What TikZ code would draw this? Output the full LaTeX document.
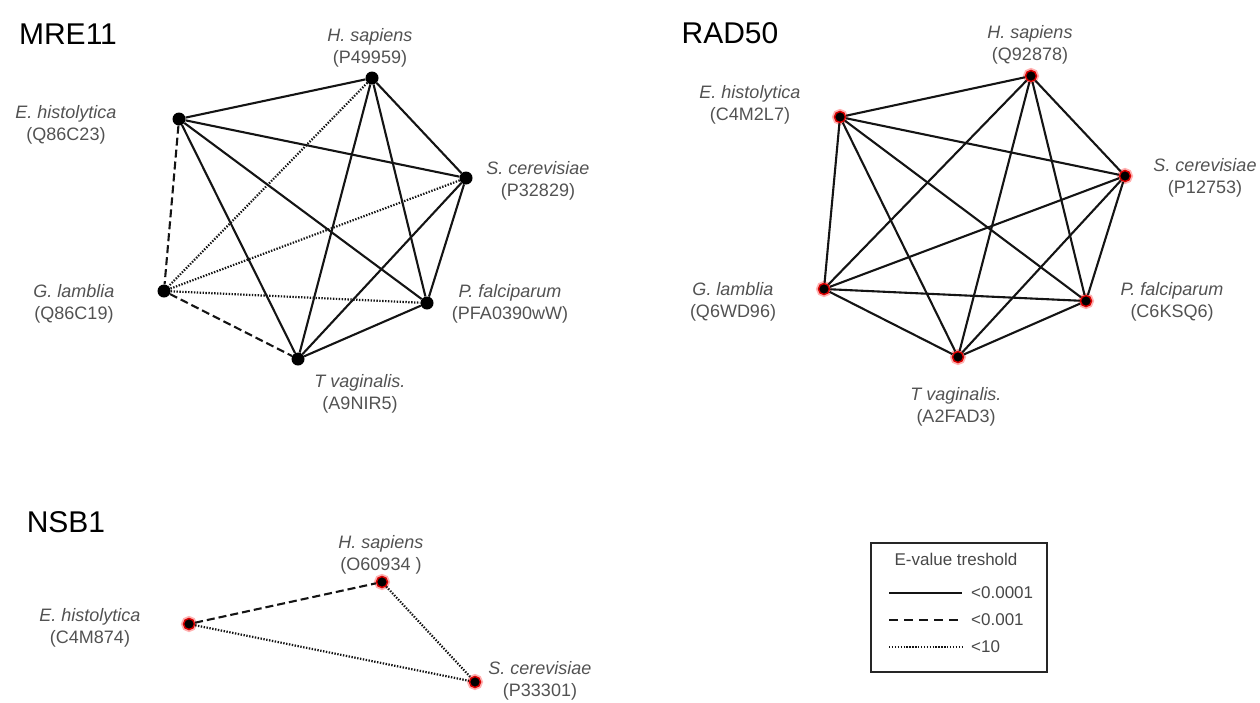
\documentclass[tikz,border=0pt]{standalone}
\usepackage{fontspec}
\setmainfont{Liberation Sans}
\begin{document}
\begin{tikzpicture}[x=1pt,y=-1pt,
  edge/.style={line width=2.1pt, black!92},
  dashedge/.style={edge, dash pattern=on 8pt off 4pt},
  dotedge/.style={edge, line width=2.2pt, dash pattern=on 1.4pt off 1.5pt},
  bdot/.style={circle, fill=black, inner sep=0pt, minimum size=13pt},
  rdot/.style={circle, fill=black, draw=red!85!black, line width=1.5pt, inner sep=0pt, minimum size=11pt,
    preaction={draw=red!30, line width=5pt}},
  lab/.style={align=center, text=black!68, font=\fontsize{18}{22}\selectfont, inner sep=0pt},
  ttl/.style={font=\fontsize{30}{34}\selectfont, inner sep=0pt},
  legtext/.style={anchor=west, text=black!72, font=\fontsize{17}{20}\selectfont, inner sep=0pt}]
\useasboundingbox (0,0) rectangle (1260,702);

% ---------------- MRE11 ----------------
\node[ttl] (tM) at (68,34) {MRE11};
\node[bdot] (mH) at (372,78) {};
\node[bdot] (mE) at (179,119) {};
\node[bdot] (mS) at (466,178) {};
\node[bdot] (mG) at (164,291) {};
\node[bdot] (mP) at (427,303) {};
\node[bdot] (mT) at (298,359) {};
\node[lab] (lmH) at (370,48) {\textit{H. sapiens}\\(P49959)};
\node[lab] (lmE) at (66,125) {\textit{E. histolytica}\\(Q86C23)};
\node[lab] (lmS) at (538,181) {\textit{S. cerevisiae}\\(P32829)};
\node[lab] (lmG) at (74,304) {\textit{G. lamblia}\\(Q86C19)};
\node[lab] (lmP) at (510,304) {\textit{P. falciparum}\\(PFA0390wW)};
\node[lab] (lmT) at (360,394) {\textit{T vaginalis.}\\(A9NIR5)};
\draw[edge] (mH) -- (mE);
\draw[edge] (mH) -- (mS);
\draw[edge] (mH) -- (mP);
\draw[edge] (mH) -- (mT);
\draw[edge] (mE) -- (mS);
\draw[edge] (mE) -- (mP);
\draw[edge] (mE) -- (mT);
\draw[edge] (mS) -- (mP);
\draw[edge] (mS) -- (mT);
\draw[edge] (mP) -- (mT);
\draw[dashedge] (mE) -- (mG);
\draw[dashedge] (mG) -- (mT);
\draw[dotedge] (mH) -- (mG);
\draw[dotedge] (mS) -- (mG);
\draw[dotedge] (mG) -- (mP);

% ---------------- RAD50 ----------------
\node[ttl] (tR) at (730,33) {RAD50};
\node[rdot] (rH) at (1031,76) {};
\node[rdot] (rE) at (840,117) {};
\node[rdot] (rS) at (1125,176) {};
\node[rdot] (rG) at (824,289) {};
\node[rdot] (rP) at (1086,301) {};
\node[rdot] (rT) at (958,357) {};
\node[lab] (lrH) at (1030,45) {\textit{H. sapiens}\\(Q92878)};
\node[lab] (lrE) at (750,105) {\textit{E. histolytica}\\(C4M2L7)};
\node[lab] (lrS) at (1205,178) {\textit{S. cerevisiae}\\(P12753)};
\node[lab] (lrG) at (733,302) {\textit{G. lamblia}\\(Q6WD96)};
\node[lab] (lrP) at (1172,302) {\textit{P. falciparum}\\(C6KSQ6)};
\node[lab] (lrT) at (956,407) {\textit{T vaginalis.}\\(A2FAD3)};
\foreach \a/\b in {rH/rE,rH/rS,rH/rG,rH/rP,rH/rT,rE/rS,rE/rG,rE/rP,rE/rT,rS/rG,rS/rP,rS/rT,rG/rP,rG/rT,rP/rT}
  \draw[edge] (\a) -- (\b);

% ---------------- NSB1 ----------------
\node[ttl] (tN) at (66,522) {NSB1};
\node[rdot] (nH) at (382,582) {};
\node[rdot] (nE) at (189,624) {};
\node[rdot] (nS) at (475,682) {};
\node[lab] (lnH) at (381,555) {\textit{H. sapiens}\\(O60934 )};
\node[lab] (lnE) at (90,628) {\textit{E. histolytica}\\(C4M874)};
\node[lab] (lnS) at (540,681) {\textit{S. cerevisiae}\\(P33301)};
\draw[dashedge] (nE) -- (nH);
\draw[dotedge] (nH) -- (nS);
\draw[dotedge] (nE) -- (nS);

% ---------------- Legend ----------------
\node[draw=black!85, line width=1.6pt, minimum width=176pt, minimum height=129pt, inner sep=0pt] (leg) at (959,607.5) {};
\node[anchor=center, text=black!72, font=\fontsize{17}{20}\selectfont, inner sep=0pt] (legT) at (956,559) {E-value treshold};
\coordinate (s1) at (889,593); \coordinate (s2) at (962,593);
\coordinate (d1) at (889,620); \coordinate (d2) at (962,620);
\coordinate (o1) at (889,647); \coordinate (o2) at (964,647);
\draw[edge] (s1) -- (s2);
\draw[edge, dash pattern=on 9pt off 6pt] (d1) -- (d2);
\draw[dotedge, line width=1.6pt] (o1) -- (o2);
\node[legtext] (l1) at (971,593) {<0.0001};
\node[legtext] (l2) at (971,620) {<0.001};
\node[legtext] (l3) at (971,647) {<10};
\end{tikzpicture}
\end{document}
